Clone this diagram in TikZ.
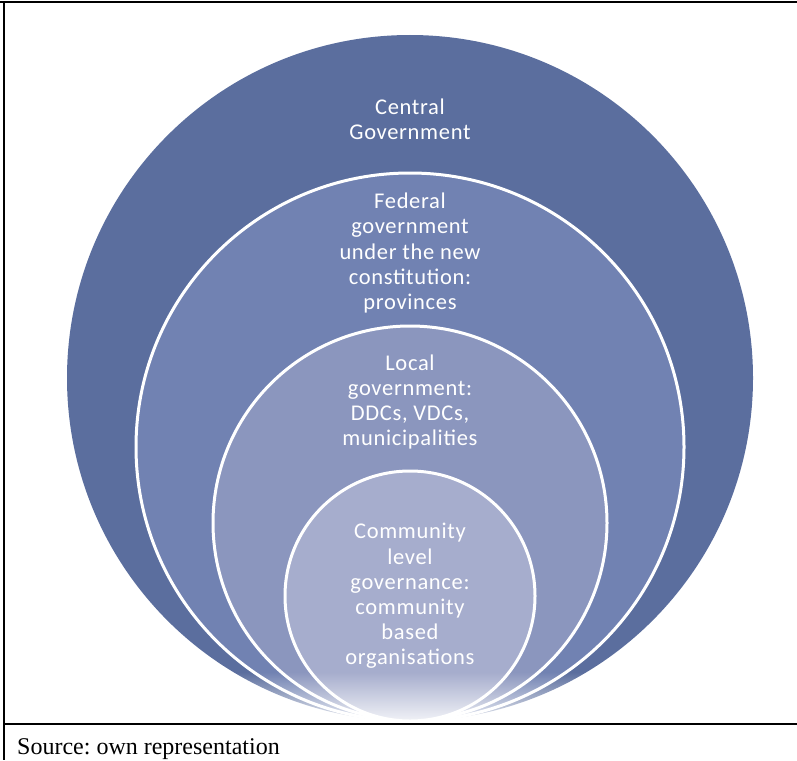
\documentclass[tikz,border=0pt]{standalone}
\usepackage{fontspec}
\setmainfont{Liberation Serif}
\newfontfamily\calfont{Carlito}[LetterSpace=3]
\usetikzlibrary{fadings}
\definecolor{cA}{RGB}{91,110,158}
\definecolor{cB}{RGB}{113,130,178}
\definecolor{cC}{RGB}{139,150,190}
\definecolor{cD}{RGB}{166,173,205}
\tikzfading[name=fadeup, top color=transparent!100, bottom color=transparent!10]
\frenchspacing
\begin{document}
\begin{tikzpicture}[x=1pt,y=-1pt,
  ring/.style={circle, inner sep=0pt, draw=white, line width=3pt},
  txt/.style={align=center, text=white, inner sep=0pt,
    font=\calfont\fontsize{22.5}{25.2}\selectfont},
  frame/.style={line width=2pt, draw=black}]
\useasboundingbox (0,0) rectangle (797,760);
% circles
\node[ring, draw=none, fill=cA, minimum size=686pt] (central) at (410,378) {};
\node[ring, fill=cB, minimum size=548pt] (federal) at (410,447) {};
\node[ring, fill=cC, minimum size=394pt] (local) at (410,523) {};
\node[ring, fill=cD, minimum size=250pt] (community) at (410,596) {};
% bottom fade
\begin{scope}
  \clip (central.center) circle[radius=344pt];
  \fill[white, path fading=fadeup] (60,672) rectangle (760,724);
\end{scope}
% labels
\node[txt] (tA) at (410,119) {Central\\Government};
\node[txt] (tB) at (410,253) {Federal\\government\\under the new\\constitution:\\provinces};
\node[txt] (tC) at (410,402) {Local\\government:\\DDCs, VDCs,\\municipalities};
\node[txt] (tD) at (410,596) {Community\\level\\governance:\\community\\based\\organisations};
% frame
\draw[frame] (0,2.5) -- (797,2.5);
\draw[frame] (4,1.5) -- (4,760);
\draw[frame] (4,724.3) -- (797,724.3);
\node[anchor=base west, inner sep=0pt, font=\fontsize{24}{28}\selectfont] (src) at (17,754) {Source: own representation};
\end{tikzpicture}
\end{document}
